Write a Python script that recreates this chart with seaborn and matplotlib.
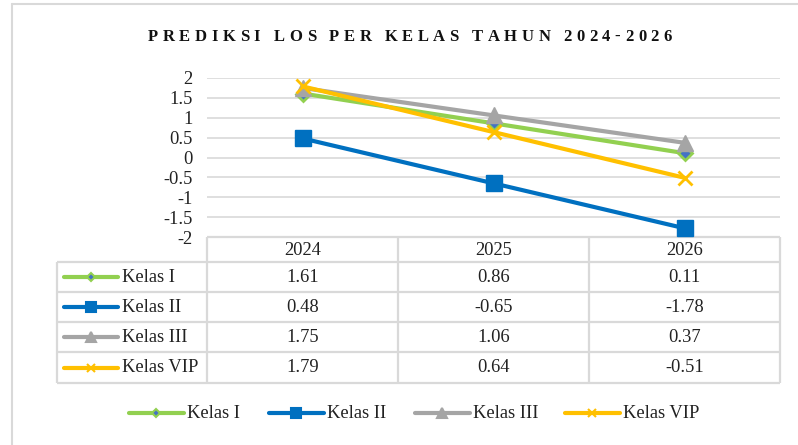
import numpy as np
import pandas as pd
import seaborn as sns
import matplotlib.pyplot as plt

# Data
tahun = ['2024', '2025', '2026']
kelas = ['Kelas I', 'Kelas II', 'Kelas III', 'Kelas VIP']
kelas_1 = [1.61, 0.86, 0.11]
kelas_2 = [0.48, -0.65, -1.78]
kelas_3 = [1.75, 1.06, 0.37]
kelas_vip = [1.79, 0.64, -0.51]
yticks = [-2, -1.5, -1, -0.5, 0, 0.5, 1, 1.5, 2]
ytick_labels = ['-2', '-1.5', '-1', '-0.5', '0', '0.5', '1', '1.5', '2']
judul = 'PREDIKSI LOS PER KELAS TAHUN 2024-2026'

nilai = [kelas_1, kelas_2, kelas_3, kelas_vip]
df = pd.DataFrame({
    'pos': list(range(len(tahun))) * len(kelas),
    'tahun': tahun * len(kelas),
    'kelas': [k for k in kelas for _ in tahun],
    'los': [v for seri in nilai for v in seri],
})

warna = ['#92D050', '#0070C0', '#A5A5A5', '#FFC000']
penanda = ['D', 's', '^', 'x']
ukuran = [7, 11.5, 11, 10]
ukuran_kecil = [4.5, 7, 7, 6]

sns.set_theme(style='white')
plt.rcParams['font.family'] = ['Liberation Serif', 'DejaVu Serif']
plt.rcParams['axes.unicode_minus'] = False
FS = 13.3
TXT = '#222222'
GRID = '#D9D9D9'

W, H = 798, 445
fig = plt.figure(figsize=(W / 100, H / 100), dpi=100)

# pixel layout
L, R, T, B = 207, 780, 78, 237
KEY_L = 57
rows = [237, 262, 292, 322, 352, 383]

# overlay in pixel coordinates (table, frame)
ov = fig.add_axes([0, 0, 1, 1], zorder=0)
ov.set_xlim(0, W)
ov.set_ylim(H, 0)
ov.axis('off')

ax = fig.add_axes([L / W, 1 - B / H, (R - L) / W, (B - T) / H], zorder=1)
ax.patch.set_alpha(0)

for i, k in enumerate(kelas):
    sub = df[df['kelas'] == k]
    if penanda[i] == 'x':
        gaya = dict(mec=warna[i], mew=2)
    elif penanda[i] == 'D':
        gaya = dict(mfc='#4472C4', mec=warna[i], mew=2)
    else:
        gaya = dict(mfc=warna[i], mec=warna[i], mew=1)
    sns.lineplot(data=sub, x='pos', y='los', color=warna[i], marker=penanda[i],
                 markersize=ukuran[i], linewidth=3, clip_on=False, ax=ax, **gaya)

ax.set_xlim(-0.5, len(tahun) - 0.5)
ax.set_ylim(-2, 2)
ax.set_yticks(yticks, ytick_labels)
ax.set_xticks([])
ax.set_xlabel('')
ax.set_ylabel('')
ax.tick_params(axis='y', length=0, pad=10.5, labelsize=FS, colors=TXT)
ax.grid(axis='y', color=GRID, linewidth=1.2)
for s in ax.spines.values():
    s.set_visible(False)

# outer frame (only top/left visible in the crop)
ov.plot([12, 12], [4, H], color=GRID, lw=1.5)
ov.plot([12, W], [4, 4], color=GRID, lw=1.5)

# data table
col_w = (R - L) / len(tahun)
tkw = dict(color=GRID, lw=1.6, solid_capstyle='butt')
ov.plot([L, R], [rows[0], rows[0]], **tkw)
for y in rows[1:]:
    ov.plot([KEY_L, R], [y, y], **tkw)
for j in range(len(tahun) + 1):
    x = L + j * col_w
    ov.plot([x, x], [rows[0], rows[-1]], **tkw)
ov.plot([KEY_L, KEY_L], [rows[1], rows[-1]], **tkw)

for j, th in enumerate(tahun):
    ov.text(L + (j + 0.5) * col_w, (rows[0] + rows[1]) / 2 + 1, th,
            ha='center', va='center', fontsize=FS, color=TXT)

for i, k in enumerate(kelas):
    yc = (rows[i + 1] + rows[i + 2]) / 2
    ov.plot([64, 118], [yc, yc], color=warna[i], lw=3, solid_capstyle='round')
    mfc = '#4472C4' if penanda[i] == 'D' else warna[i]
    ov.plot([91], [yc], marker=penanda[i], ms=ukuran_kecil[i], color=warna[i],
            mfc=mfc, mec=warna[i], mew=1.5)
    ov.text(122, yc, k, ha='left', va='center', fontsize=FS, color=TXT)
    for j, v in enumerate(nilai[i]):
        ov.text(L + (j + 0.5) * col_w, yc, f'{v:.2f}', ha='center', va='center',
                fontsize=FS, color=TXT)

# bottom legend
leg_x = [129, 269, 415, 565]
for i, k in enumerate(kelas):
    x0 = leg_x[i]
    ov.plot([x0, x0 + 55], [413, 413], color=warna[i], lw=3, solid_capstyle='round')
    mfc = '#4472C4' if penanda[i] == 'D' else warna[i]
    ov.plot([x0 + 27], [413], marker=penanda[i], ms=ukuran_kecil[i], color=warna[i],
            mfc=mfc, mec=warna[i], mew=1.5)
    ov.text(x0 + 58, 413, k, ha='left', va='center', fontsize=FS, color=TXT)

# letter-spaced title
renderer = fig.canvas.get_renderer()
lebar = []
for ch in judul:
    if ch == ' ':
        lebar.append(0)
        continue
    t = ov.text(0, 0, ch, fontsize=12, fontweight='bold')
    lebar.append(t.get_window_extent(renderer).width)
    t.remove()
spasi = 4
target = 672 - 148
gap = (target - sum(lebar) - spasi * judul.count(' ')) / (len(judul) - 1)
x = 148
for ch, w in zip(judul, lebar):
    if ch == ' ':
        x += spasi + gap
        continue
    ov.text(x, 37, ch, fontsize=12, fontweight='bold', ha='left', va='center',
            color='#111111')
    x += w + gap

fig.savefig('out.png', dpi=100)
